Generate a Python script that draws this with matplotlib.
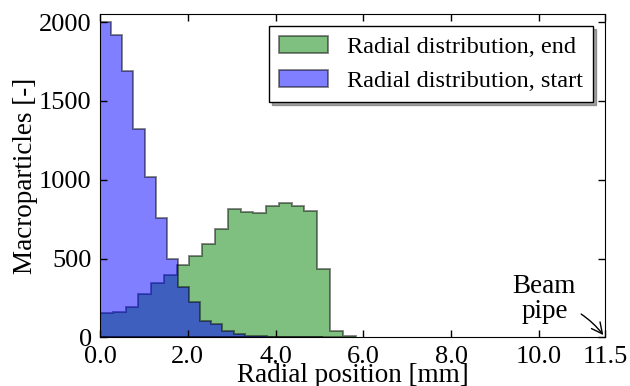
import numpy as np
import matplotlib
matplotlib.use('Agg')
import matplotlib.pyplot as plt

# Histogram counts (20 bins each)
start_counts = [2002, 1918, 1687, 1325, 1019, 757, 494, 320, 223, 103,
                82, 38, 21, 10, 8, 3, 2, 1, 1, 1]
end_counts = [152, 162, 194, 274, 342, 394, 457, 514, 592, 690,
              813, 796, 789, 833, 852, 831, 799, 434, 40, 6]
start_rmax = 5.07   # mm, upper edge of start histogram
end_rmax = 5.82     # mm, upper edge of end histogram
beam_pipe = 11.5    # mm

xticks = [0.0, 2.0, 4.0, 6.0, 8.0, 10.0, 11.5]
xticklabels = ['0.0', '2.0', '4.0', '6.0', '8.0', '10.0', '11.5']
yticks = [0, 500, 1000, 1500, 2000]

plt.rcParams['font.family'] = 'serif'
plt.rcParams['font.serif'] = ['Liberation Serif', 'DejaVu Serif']
plt.rcParams['font.size'] = 19

fig = plt.figure(figsize=(6.3, 3.86), dpi=100)
ax = fig.add_axes([0.1587, 0.1262, 0.8016, 0.8368])

start_edges = np.linspace(0, start_rmax, len(start_counts) + 1)
end_edges = np.linspace(0, end_rmax, len(end_counts) + 1)

# end first (green), start drawn on top (blue)
ax.hist(end_edges[:-1], bins=end_edges, weights=end_counts, histtype='stepfilled',
        facecolor='green', edgecolor='black', alpha=0.5, linewidth=1.3,
        label='Radial distribution, end')
ax.hist(start_edges[:-1], bins=start_edges, weights=start_counts, histtype='stepfilled',
        facecolor='blue', edgecolor='black', alpha=0.5, linewidth=1.3,
        label='Radial distribution, start')

ax.set_xlim(0, beam_pipe)
ax.set_ylim(0, 2050)
ax.set_xticks(xticks)
ax.set_xticklabels(xticklabels)
ax.set_yticks(yticks)
ax.tick_params(direction='in', top=True, right=True, length=5, width=1, pad=6)

ax.set_xlabel('Radial position [mm]', labelpad=-3, fontsize=19.5)
ax.set_ylabel('Macroparticles [-]', labelpad=1, fontsize=19.5)

ax.annotate('Beam\npipe', xy=(beam_pipe, 0), xytext=(10.12, 240),
            ha='center', va='center', linespacing=1.0, fontsize=19.5,
            arrowprops=dict(arrowstyle='->', connectionstyle='arc3,rad=-0.2',
                            color='black', lw=1))

leg = ax.legend(loc='upper right', shadow=True, fancybox=False, framealpha=1,
                fontsize=17.5)
leg.get_frame().set_edgecolor('black')

fig.savefig('out.png', dpi=100)
